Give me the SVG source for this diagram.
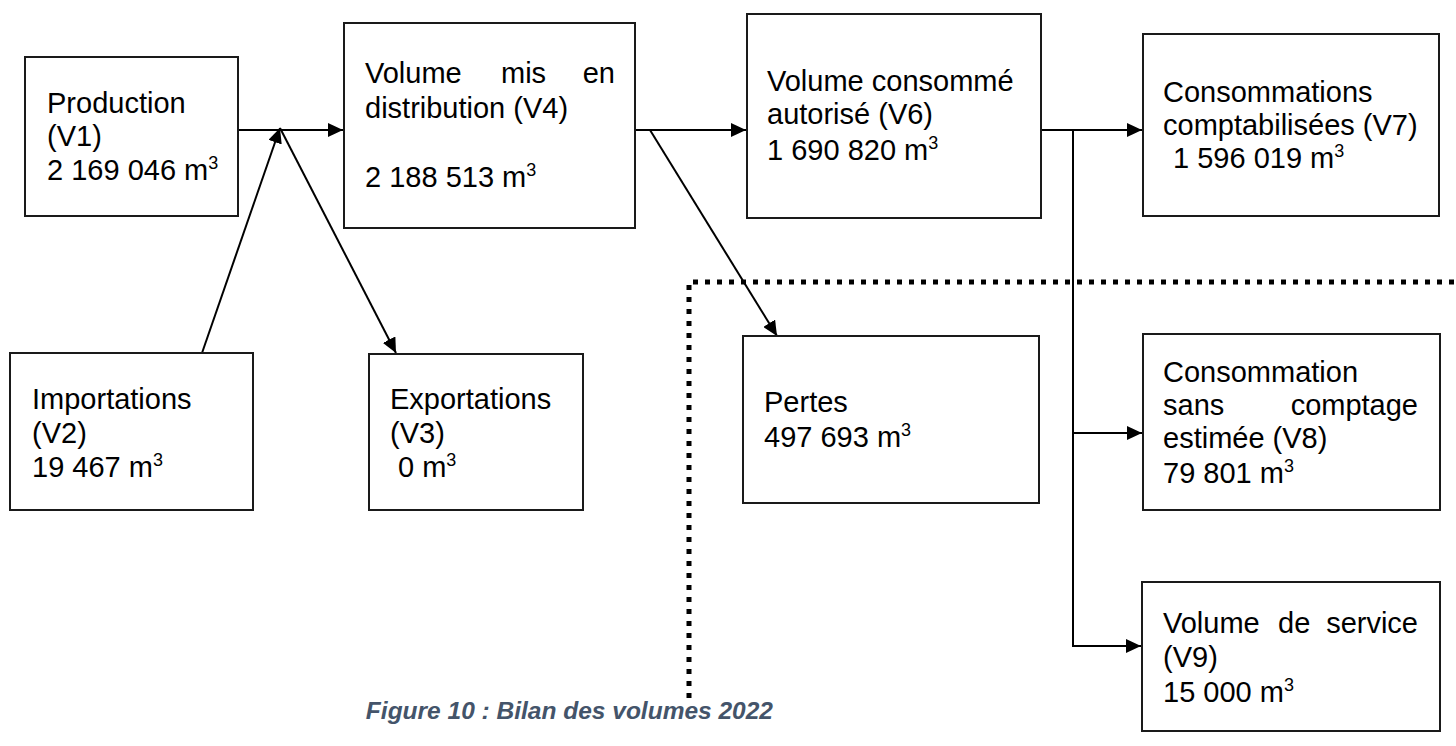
<svg xmlns="http://www.w3.org/2000/svg" width="1456" height="746" viewBox="0 0 1456 746">
<style>
.box{fill:#fff;stroke:#1a1a1a;stroke-width:2}
.t{font-family:"Liberation Sans",Arial,sans-serif;font-size:29px;fill:#000}
.sup{font-size:18px}
.ln{stroke:#000;stroke-width:2;fill:none}
.dot{stroke:#000;stroke-width:5;stroke-dasharray:5 7;fill:none}
.cap{font-family:"Liberation Sans",Arial,sans-serif;font-size:24.5px;font-weight:bold;font-style:italic;fill:#44546A}
</style>
<defs>
<marker id="ah" markerWidth="15" markerHeight="14" refX="15" refY="7" orient="auto" markerUnits="userSpaceOnUse">
<path d="M0,0 L15,7 L0,14 z" fill="#000"/>
</marker>
</defs>
<g id="boundary">
<path class="dot" d="M689,698 V282 H1456"/>
</g>
<g id="connectors">
<line class="ln" x1="238" y1="130" x2="343" y2="130" marker-end="url(#ah)"/>
<line class="ln" x1="202" y1="353" x2="280" y2="128" marker-end="url(#ah)"/>
<line class="ln" x1="280" y1="128" x2="396" y2="353" marker-end="url(#ah)"/>
<line class="ln" x1="635" y1="130" x2="746" y2="130" marker-end="url(#ah)"/>
<line class="ln" x1="650" y1="130" x2="777" y2="336" marker-end="url(#ah)"/>
<line class="ln" x1="1041" y1="130" x2="1142" y2="130" marker-end="url(#ah)"/>
<line class="ln" x1="1073" y1="130" x2="1073" y2="646"/>
<line class="ln" x1="1073" y1="433" x2="1142" y2="433" marker-end="url(#ah)"/>
<line class="ln" x1="1072" y1="646" x2="1141" y2="646" marker-end="url(#ah)"/>
</g>
<g id="v1">
<rect class="box" x="25" y="57" width="213" height="159"/>
<text class="t" x="47" y="113">Production</text>
<text class="t" x="47" y="146">(V1)</text>
<text class="t" x="47" y="180">2 169 046 m<tspan class="sup" dy="-11">3</tspan></text>
</g>
<g id="v2">
<rect class="box" x="10" y="353" width="243" height="157"/>
<text class="t" x="32" y="409">Importations</text>
<text class="t" x="32" y="443">(V2)</text>
<text class="t" x="32" y="477">19 467 m<tspan class="sup" dy="-11">3</tspan></text>
</g>
<g id="v3">
<rect class="box" x="369" y="354" width="214" height="156"/>
<text class="t" x="390" y="409">Exportations</text>
<text class="t" x="390" y="443">(V3)</text>
<text class="t" x="398" y="477">0 m<tspan class="sup" dy="-11">3</tspan></text>
</g>
<g id="v4">
<rect class="box" x="344" y="23" width="291" height="205"/>
<text class="t" x="365" y="83">Volume</text>
<text class="t" x="501" y="83">mis</text>
<text class="t" x="615" y="83" text-anchor="end">en</text>
<text class="t" x="365" y="118">distribution (V4)</text>
<text class="t" x="365" y="187">2 188 513 m<tspan class="sup" dy="-11">3</tspan></text>
</g>
<g id="v6">
<rect class="box" x="747" y="14" width="294" height="204"/>
<text class="t" x="767" y="91">Volume consommé</text>
<text class="t" x="767" y="124">autorisé (V6)</text>
<text class="t" x="767" y="160">1 690 820 m<tspan class="sup" dy="-11">3</tspan></text>
</g>
<g id="v7">
<rect class="box" x="1143" y="34" width="296" height="182"/>
<text class="t" x="1163" y="102">Consommations</text>
<text class="t" x="1163" y="135">comptabilisées (V7)</text>
<text class="t" x="1173" y="168">1 596 019 m<tspan class="sup" dy="-11">3</tspan></text>
</g>
<g id="pertes">
<rect class="box" x="743" y="336" width="296" height="167"/>
<text class="t" x="764" y="412">Pertes</text>
<text class="t" x="764" y="447">497 693 m<tspan class="sup" dy="-11">3</tspan></text>
</g>
<g id="v8">
<rect class="box" x="1143" y="334" width="297" height="176"/>
<text class="t" x="1163" y="382">Consommation</text>
<text class="t" x="1163" y="415">sans</text>
<text class="t" x="1418" y="415" text-anchor="end">comptage</text>
<text class="t" x="1163" y="448">estimée (V8)</text>
<text class="t" x="1163" y="483">79 801 m<tspan class="sup" dy="-11">3</tspan></text>
</g>
<g id="v9">
<rect class="box" x="1142" y="582" width="298" height="149"/>
<text class="t" x="1163" y="633">Volume</text>
<text class="t" x="1278" y="633">de</text>
<text class="t" x="1418" y="633" text-anchor="end">service</text>
<text class="t" x="1163" y="667">(V9)</text>
<text class="t" x="1163" y="702">15 000 m<tspan class="sup" dy="-11">3</tspan></text>
</g>
<g id="caption">
<text class="cap" x="773" y="719" text-anchor="end">Figure 10 : Bilan des volumes 2022</text>
</g>
</svg>
